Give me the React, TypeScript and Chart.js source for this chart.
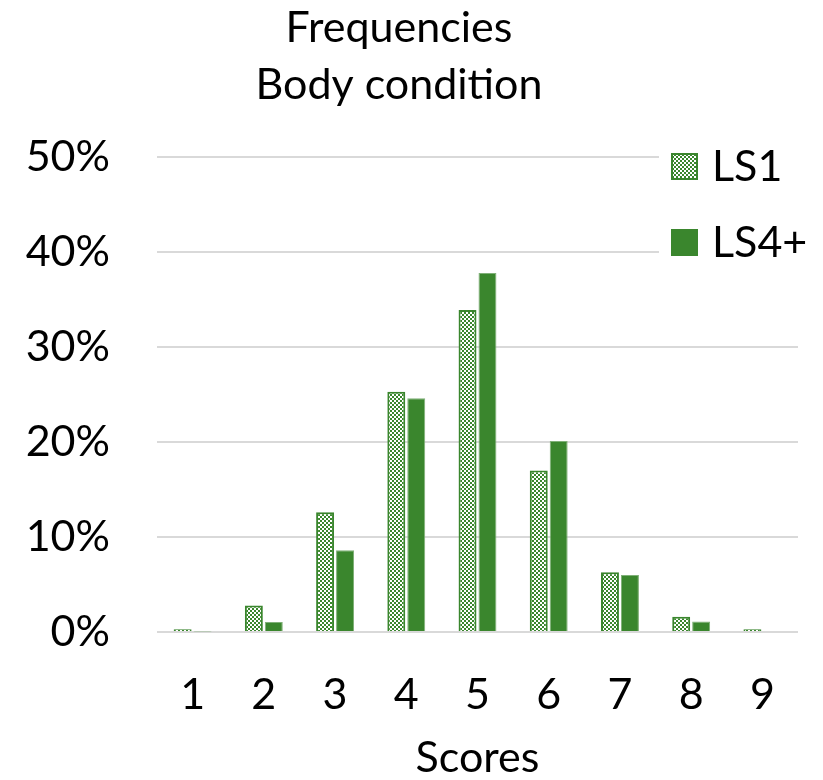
import React, { useEffect, useRef } from "react";
import { Chart, registerables } from "chart.js";

Chart.register(...registerables);

const scores = ["1", "2", "3", "4", "5", "6", "7", "8", "9"];
const ls1 = [0.3, 2.8, 12.6, 25.3, 33.9, 17.0, 6.3, 1.6, 0.3];
const ls4 = [0.05, 1.05, 8.6, 24.6, 37.8, 20.1, 6.0, 1.1, 0.1];
const titleLines = ["Frequencies", "Body condition"];
const axisTitle = "Scores";

const GREEN = "#3a862d";
const FONT = "Lato, 'Open Sans', sans-serif";
const SIZE = 43;

function checkerPattern(ctx: CanvasRenderingContext2D) {
  const c = document.createElement("canvas");
  c.width = 4;
  c.height = 4;
  const p = c.getContext("2d")!;
  p.fillStyle = "#ffffff";
  p.fillRect(0, 0, 4, 4);
  p.fillStyle = GREEN;
  p.fillRect(0, 0, 2, 2);
  p.fillRect(2, 2, 2, 2);
  return ctx.createPattern(c, "repeat")!;
}

export default function App() {
  const ref = useRef<HTMLCanvasElement>(null);

  useEffect(() => {
    const canvas = ref.current!;
    const ctx = canvas.getContext("2d")!;
    const pattern = checkerPattern(ctx);

    // legend drawn inside the plot, over a white box
    const innerLegend = {
      id: "innerLegend",
      afterDatasetsDraw(chart: any) {
        const { ctx, chartArea } = chart;
        const x = chartArea.right - 127;
        const y0 = chartArea.top + 9;
        ctx.save();
        ctx.fillStyle = "#ffffff";
        ctx.fillRect(x - 12, chartArea.top - 4, 150, 125);
        const items = [
          { label: "LS1", fill: pattern, stroke: GREEN },
          { label: "LS4+", fill: GREEN, stroke: GREEN },
        ];
        items.forEach((it, i) => {
          const cy = y0 + i * 76;
          ctx.fillStyle = it.fill;
          ctx.fillRect(x, cy - 13, 27, 27);
          ctx.strokeStyle = it.stroke;
          ctx.lineWidth = 2;
          ctx.strokeRect(x + 1, cy - 12, 25, 25);
          ctx.fillStyle = "#000000";
          ctx.font = `${SIZE}px ${FONT}`;
          ctx.textBaseline = "middle";
          ctx.fillText(it.label, x + 41, cy + 1);
        });
        ctx.restore();
      },
    };

    const chart = new Chart(canvas, {
      type: "bar",
      data: {
        labels: scores,
        datasets: [
          {
            label: "LS1",
            data: ls1,
            backgroundColor: pattern as any,
            borderColor: GREEN,
            borderWidth: 2,
            categoryPercentage: 0.56,
            barPercentage: 0.9,
          },
          {
            label: "LS4+",
            data: ls4,
            backgroundColor: GREEN,
            borderColor: "#7fb077",
            borderWidth: 1,
            categoryPercentage: 0.56,
            barPercentage: 0.9,
          },
        ],
      },
      options: {
        responsive: false,
        animation: false,
        devicePixelRatio: 1,
        layout: { padding: { left: 0, right: 25, top: 0, bottom: 0 } },
        plugins: {
          legend: { display: false },
          tooltip: { enabled: false },
          title: {
            display: true,
            text: titleLines,
            color: "#000000",
            font: { family: FONT, size: SIZE, weight: "normal", lineHeight: 57 / SIZE },
            padding: { top: 0, bottom: 43 },
          },
        },
        scales: {
          x: {
            grid: { display: false },
            border: { display: false },
            afterFit: (s: any) => {
              s.height = 148;
            },
            ticks: {
              color: "#000000",
              font: { family: FONT, size: SIZE },
              padding: 29,
            },
            title: {
              display: true,
              text: axisTitle,
              color: "#000000",
              font: { family: FONT, size: SIZE, lineHeight: 1 },
              padding: { top: 0, bottom: 0 },
            },
          },
          y: {
            min: 0,
            max: 50,
            border: { display: false },
            afterFit: (s: any) => {
              s.width = 157;
            },
            grid: { color: "#d9d9d9", lineWidth: 2, drawTicks: false },
            ticks: {
              stepSize: 10,
              color: "#000000",
              font: { family: FONT, size: SIZE },
              padding: 47,
              callback: (v: any) => `${v}%`,
            },
          },
        },
      },
      plugins: [innerLegend],
    });
    return () => chart.destroy();
  }, []);

  return (
    <div style={{ position: "fixed", left: 0, top: 0, width: 823, height: 780, background: "#fff" }}>
      <canvas ref={ref} width={823} height={780} />
    </div>
  );
}
